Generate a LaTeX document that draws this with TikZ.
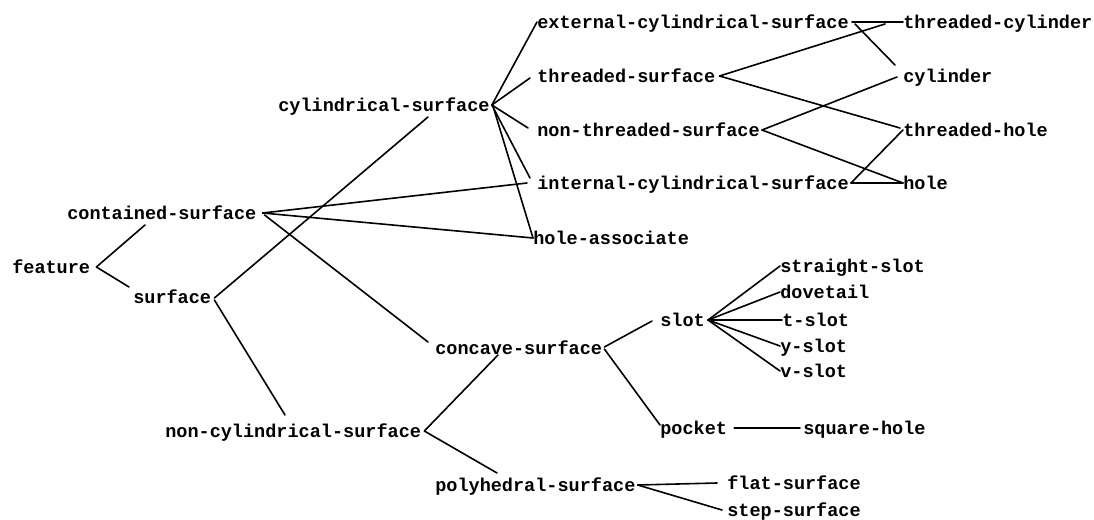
\documentclass[tikz,border=0pt]{standalone}
\usepackage{fontspec}
\setmonofont{Liberation Mono}
\usetikzlibrary{calc}
\tikzset{
  lbl/.style={anchor=west, inner sep=0pt, text height=12pt, text depth=2pt,
    font=\fontsize{13.9}{16}\selectfont\ttfamily\bfseries},
  edge/.style={line width=1.2pt, line cap=round}
}
\begin{document}
\begin{tikzpicture}[x=0.75pt, y=-0.75pt]
\useasboundingbox (0,0) rectangle (1094,520);
% nodes
\node[lbl] (feat) at (12,267) {feature};
\node[lbl] (cs) at (67,213) {contained-surface};
\node[lbl] (surf) at (133,297) {surface};
\node[lbl] (cyl) at (278,105) {cylindrical-surface};
\node[lbl] (ext) at (537,22) {external-cylindrical-surface};
\node[lbl] (thrs) at (537,76) {threaded-surface};
\node[lbl] (nthr) at (537,130) {non-threaded-surface};
\node[lbl] (int) at (537,183) {internal-cylindrical-surface};
\node[lbl] (hass) at (533,238) {hole-associate};
\node[lbl] (tcyl) at (903,22) {threaded-cylinder};
\node[lbl] (cylr) at (903,76) {cylinder};
\node[lbl] (thole) at (903,130) {threaded-hole};
\node[lbl] (hole) at (903,183) {hole};
\node[lbl] (ncyl) at (165,431) {non-cylindrical-surface};
\node[lbl] (conc) at (435,348) {concave-surface};
\node[lbl] (poly) at (435,485) {polyhedral-surface};
\node[lbl] (flat) at (727,483) {flat-surface};
\node[lbl] (step) at (727,510) {step-surface};
\node[lbl] (slot) at (660,320) {slot};
\node[lbl] (pocket) at (660,428) {pocket};
\node[lbl] (sqh) at (803,428) {square-hole};
\node[lbl] (sts) at (780,266) {straight-slot};
\node[lbl] (dove) at (780,292) {dovetail};
\node[lbl] (tslot) at (782,320) {t-slot};
\node[lbl] (yslot) at (780,346) {y-slot};
\node[lbl] (vslot) at (780,371) {v-slot};
% connectors
\begin{scope}[edge]
\draw ($(feat.east)+(6,0)$) -- ($(cs.west)+(78,12)$);
\draw ($(feat.east)+(6,0)$) -- ($(surf.west)+(-4,-10)$);
\draw ($(surf.east)+(3,1)$) -- ($(cyl.west)+(150,12)$);
\draw ($(surf.east)+(3,3)$) -- ($(ncyl.west)+(120,-16)$);
\draw ($(cs.east)+(6,0)$) -- ($(int.west)+(-10,0)$);
\draw ($(cs.east)+(6,0)$) -- (hass.west);
\draw ($(cs.east)+(8,2)$) -- ($(conc.west)+(-7,-6)$);
\draw ($(cyl.east)+(2,0)$) -- (ext.west);
\draw ($(cyl.east)+(2,0)$) -- ($(thrs.west)+(-7,2)$);
\draw ($(cyl.east)+(2,0)$) -- ($(nthr.west)+(-9,-2)$);
\draw ($(cyl.east)+(2,0)$) -- ($(int.west)+(-7,-5)$);
\draw ($(cyl.east)+(4,4)$) -- (hass.west);
\draw ($(ext.east)+(3,0)$) -- (tcyl.west);
\draw ($(ext.east)+(6,2)$) -- ($(cylr.west)+(-8,-11)$);
\draw ($(thrs.east)+(4,0)$) -- ($(tcyl.west)+(-18,2)$);
\draw ($(thrs.east)+(4,0)$) -- ($(thole.west)+(-3,-2)$);
\draw ($(nthr.east)+(2,0)$) -- ($(cylr.west)+(-6,1)$);
\draw ($(nthr.east)+(2,0)$) -- (hole.west);
\draw ($(int.east)+(2,0)$) -- (hole.west);
\draw ($(int.east)+(2,0)$) -- (thole.west);
\draw ($(ncyl.east)+(3,0)$) -- ($(conc.west)+(63,7)$);
\draw ($(ncyl.east)+(3,0)$) -- ($(poly.west)+(62,-12)$);
\draw ($(conc.east)+(2,-1)$) -- ($(slot.west)+(-8,1)$);
\draw ($(conc.east)+(2,1)$) -- ($(pocket.west)+(0,-3)$);
\draw ($(slot.east)+(3,0)$) -- (sts.west);
\draw ($(slot.east)+(3,0)$) -- (dove.west);
\draw ($(slot.east)+(3,0)$) -- (tslot.west);
\draw ($(slot.east)+(3,0)$) -- (yslot.west);
\draw ($(slot.east)+(3,0)$) -- (vslot.west);
\draw ($(pocket.east)+(7,0)$) -- ($(sqh.west)+(-3,0)$);
\draw ($(poly.east)+(2,0)$) -- ($(flat.west)+(-10,0)$);
\draw ($(poly.east)+(2,0)$) -- ($(step.west)+(-5,0)$);
\end{scope}
\end{tikzpicture}
\end{document}
